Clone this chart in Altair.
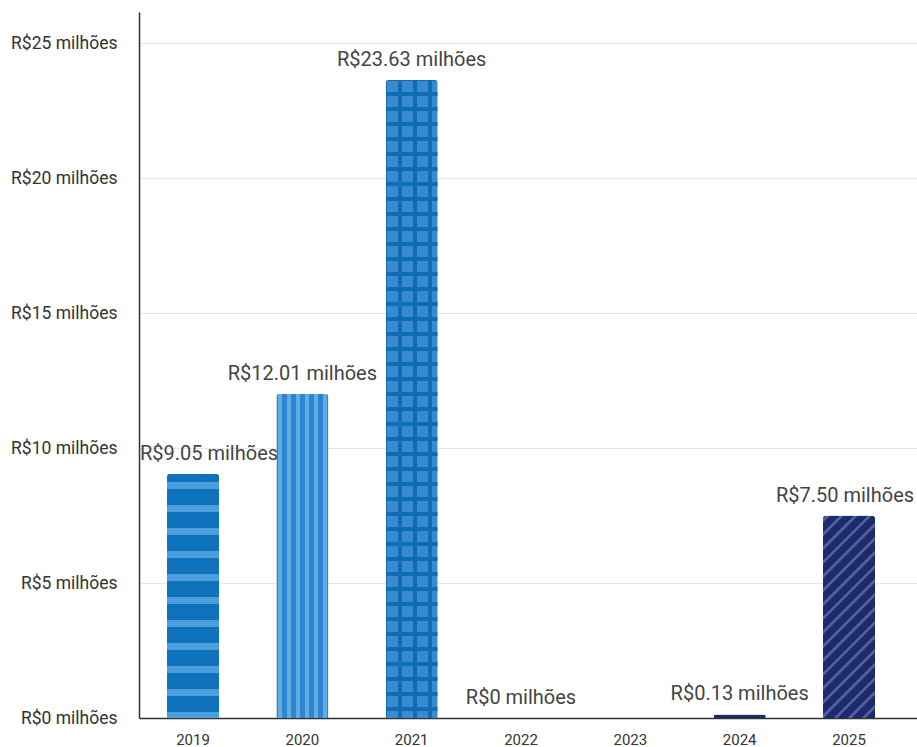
import altair as alt
import pandas as pd

# ---- data ----
years = ["2019", "2020", "2021", "2022", "2023", "2024", "2025"]
values = [9.05, 12.01, 23.63, 0.0, None, 0.13, 7.50]
value_labels = ["R$9.05 milhões", "R$12.01 milhões", "R$23.63 milhões",
                "R$0 milhões", "", "R$0.13 milhões", "R$7.50 milhões"]
y_ticks = [0, 5, 10, 15, 20, 25]

# ---- layout / style ----
W, H = 778, 706
Y_MAX = 26.15
PAD_IN, PAD_OUT, ALIGN = 0.524, 0.32, 0.4
STEP = W / (len(years) - PAD_IN + 2 * PAD_OUT)
BAR_W = STEP * (1 - PAD_IN)
FONT = "Roboto"


def bar_h(v):
    return v / Y_MAX * H


def stops(length, period, line_w, line_color, gap_color, phase=0.0):
    st = [(0.0, gap_color)]
    start = phase - period
    while start < length:
        a = max(start, 0.0)
        b = min(start + line_w, length)
        if b > a:
            st += [(a, gap_color), (a, line_color), (b, line_color), (b, gap_color)]
        start += period
    st.append((length, gap_color))
    return [{"offset": round(min(max(o / length, 0), 1), 5), "color": c} for o, c in st]


def grad_x(period, line_w, line_color, gap_color, phase=0.0):
    return {"gradient": "linear", "x1": 0, "y1": 0, "x2": 1, "y2": 0,
            "stops": stops(BAR_W, period, line_w, line_color, gap_color, phase)}


def grad_y(h, period, line_w, line_color, gap_color, phase=0.0):
    return {"gradient": "linear", "x1": 0, "y1": 0, "x2": 0, "y2": 1,
            "stops": stops(h, period, line_w, line_color, gap_color, phase)}


def grad_diag(h, period, line_w, line_color, gap_color, phase=0.0):
    w = BAR_W
    k = (w + h) * h / (w * w + h * h)
    return {"gradient": "linear", "x1": 0, "y1": 0,
            "x2": round(k * w / h, 5), "y2": round(k, 5),
            "stops": stops(w + h, period, line_w, line_color, gap_color, phase)}


df = pd.DataFrame({"year": years, "value": values, "label": value_labels})

x_enc = alt.X("year:N",
              scale=alt.Scale(domain=years, paddingInner=PAD_IN,
                              paddingOuter=PAD_OUT, align=ALIGN),
              axis=alt.Axis(title=None, labelAngle=0, ticks=False,
                            domainColor="#333333", domainWidth=1.5,
                            labelPadding=14, labelFont=FONT, labelFontSize=15,
                            labelColor="#333333", grid=False))
y_enc = alt.Y("value:Q",
              scale=alt.Scale(domain=[0, Y_MAX], nice=False, zero=True),
              axis=alt.Axis(title=None, values=y_ticks,
                            labelExpr="'R$' + datum.value + ' milhões'",
                            ticks=False, domainColor="#333333", domainWidth=1.5,
                            labelPadding=22, labelFont=FONT, labelFontSize=17.5,
                            labelColor="#333333", grid=True,
                            gridColor="#e6e6e6", gridWidth=1))

base = alt.Chart(df).encode(x=x_enc, y=y_enc)


def bar(year, fill):
    return base.transform_filter(alt.datum.year == year).mark_bar(
        fill=fill, cornerRadiusTopLeft=3, cornerRadiusTopRight=3)


v = dict(zip(years, values))
layers = [
    bar("2019", grad_y(bar_h(v["2019"]), 23, 7, "#4c9fdc", "#0e72bd", 8)),
    bar("2020", grad_x(9, 3.5, "#62abe3", "#2c87d0", 2)),
    bar("2021", grad_x(15, 4, "#0f6cb7", "#3a8bcd", 12)),
    bar("2021", grad_y(bar_h(v["2021"]), 15, 4, "#0f6cb7", "rgba(0,0,0,0)", 12)),
    bar("2024", "#1e2a6a"),
    bar("2025", grad_diag(bar_h(v["2025"]), 14, 4.5, "#4b5fa3", "#1e2a6a", 3)),
]


def label(filter_expr, dx=0):
    return base.transform_filter(filter_expr).mark_text(
        baseline="bottom", align="center", dy=-10, dx=dx, font=FONT,
        fontSize=20, color="#444444").encode(text="label:N")


layers += [
    label("datum.label != '' && datum.year != '2019' && datum.year != '2025'"),
    label("datum.year == '2019'", dx=16),
    label("datum.year == '2025'", dx=-4),
]

chart = alt.layer(*layers).properties(
    width=W, height=H,
    autosize=alt.AutoSizeParams(type="none"),
    padding={"left": 139, "top": 12, "right": 0, "bottom": 29},
).configure_view(stroke=None)

chart.save("out.html", embed_options={"renderer": "svg", "actions": False})
